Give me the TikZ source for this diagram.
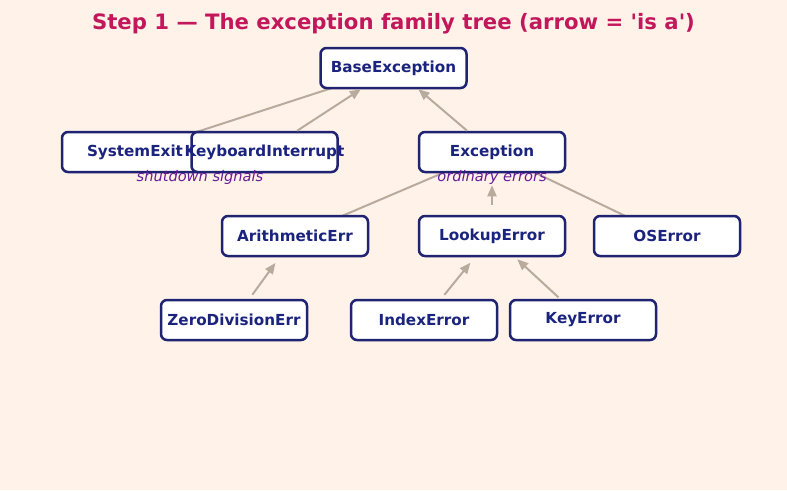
\documentclass[tikz,border=0pt]{standalone}
\usepackage{fontspec}
\setmainfont{DejaVu Sans}
\newfontfamily\plainfont{DejaVu Sans}
\usetikzlibrary{arrows.meta}
\definecolor{bgc}{HTML}{FFF2E8}
\definecolor{navy}{HTML}{1F2372}
\definecolor{navytext}{HTML}{1A237E}
\definecolor{titlec}{HTML}{C2185B}
\definecolor{notec}{HTML}{6A1B9A}
\definecolor{edgec}{HTML}{B8AB9E}
\pgfdeclarelayer{bglayer}
\pgfdeclarelayer{background}
\pgfsetlayers{bglayer,background,main}
\tikzset{
  cls/.style={draw=navy, line width=2.5pt, fill=white, rounded corners=6pt,
    minimum width=146pt, minimum height=40pt, inner sep=0pt,
    font=\fontsize{15.2}{18}\selectfont\bfseries, text=navytext},
  note/.style={font=\fontsize{14.6}{16}\selectfont\itshape, text=notec, inner sep=0pt},
  isa/.style={draw=edgec, line width=2pt, -{Triangle[length=11pt,width=9pt]}},
  plainedge/.style={draw=edgec, line width=2pt}
}
\newcommand{\clsname}[1]{\makebox[0pt][c]{\raisebox{-1pt}{#1}}}
\begin{document}
\begin{tikzpicture}[x=1pt,y=-1pt]
\begin{pgfonlayer}{bglayer}
\fill[bgc] (0,0) rectangle (787,490);
\end{pgfonlayer}
\useasboundingbox (0,0) rectangle (787,490);
\node[font=\plainfont\fontsize{21.2}{24}\selectfont\bfseries, text=titlec] (title) at (393.5,24) {Step 1 — The exception family tree (arrow = 'is a')};
\node[cls] (be) at (393.5,68) {\clsname{BaseException}};
\node[cls] (se) at (135,152) {\clsname{SystemExit}};
\node[cls] (ki) at (264.5,152) {\clsname{KeyboardInterrupt}};
\node[cls] (ex) at (492,152) {\clsname{Exception}};
\node[cls] (ar) at (295,236) {\clsname{ArithmeticErr}};
\node[cls] (lu) at (492,236) {\clsname{LookupError}};
\node[cls] (os) at (667,236) {\clsname{OSError}};
\node[cls] (zd) at (234,320) {\clsname{ZeroDivisionErr}};
\node[cls] (ix) at (424,320) {\clsname{IndexError}};
\node[cls] (ke) at (583,320) {\clsname{KeyError}};
\node[note] (n1) at (200,177) {shutdown signals};
\node[note] (n2) at (492,177) {ordinary errors};
\begin{pgfonlayer}{background}
\draw[plainedge] (se.center) -- (be.center);
\draw[plainedge] (ar.center) -- (ex.center);
\draw[plainedge] (os.center) -- (ex.center);
\end{pgfonlayer}
\draw[isa] (ki) -- (be);
\draw[isa] (ex) -- (be);
\draw[isa, shorten <=10pt, shorten >=12pt] (lu) -- (ex);
\draw[isa, shorten <=5pt, shorten >=7pt] (zd) -- (ar);
\draw[isa, shorten <=5pt, shorten >=7pt] (ix) -- (lu);
\draw[isa, shorten <=2pt, shorten >=3pt] (ke) -- (lu);
\end{tikzpicture}
\end{document}
